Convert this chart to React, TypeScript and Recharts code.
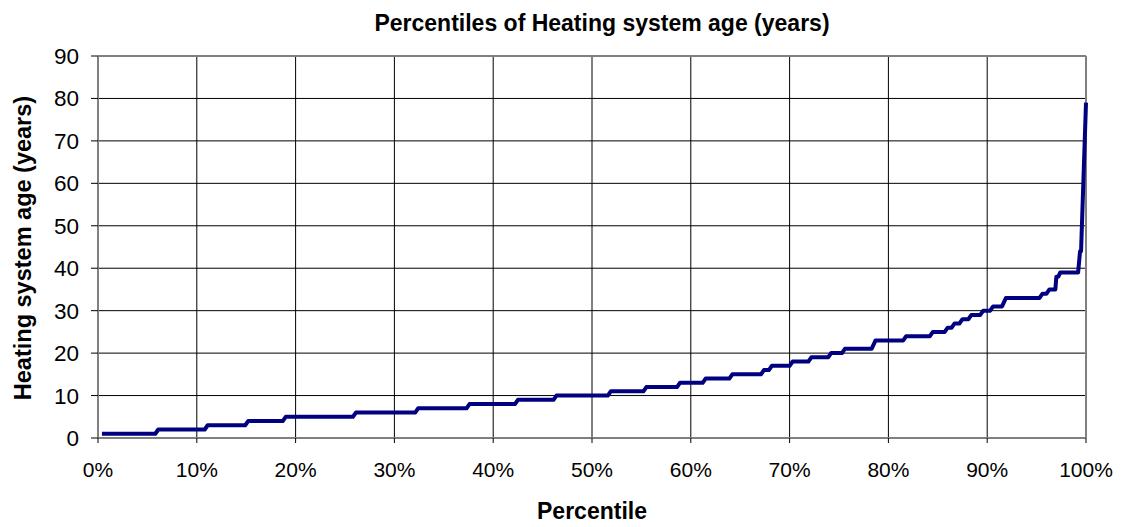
import { CartesianGrid, Line, LineChart, ReferenceLine, XAxis, YAxis } from "recharts";

// Step levels of the percentile curve (years) and where each flat step starts / ends (percent).
const stepLevels = [
  1, 2, 3, 4, 5, 6, 7, 8, 9, 10, 11, 12, 13, 14, 15, 16, 17, 18, 19, 20, 21, 23, 24, 25, 26, 27,
  28, 29, 30, 31, 33, 34, 35, 38, 39, 44, 79,
];
const stepStarts = [
  0.4, 6.1, 11.1, 15.2, 19.0, 26.1, 32.4, 37.6, 42.5, 46.4, 51.9, 55.5, 58.9, 61.5, 64.2, 67.4,
  68.2, 70.3, 72.2, 74.2, 75.6, 78.7, 81.8, 84.5, 86.0, 86.7, 87.5, 88.4, 89.6, 90.6, 91.9, 95.6,
  96.3, 97.0, 97.4, 99.4, 100,
];
const stepEnds = [
  5.8, 10.8, 14.9, 18.7, 25.8, 32.1, 37.3, 42.2, 46.1, 51.6, 55.2, 58.6, 61.2, 63.9, 67.1, 67.9,
  70.0, 71.9, 73.9, 75.3, 78.3, 81.5, 84.2, 85.7, 86.4, 87.2, 88.1, 89.3, 90.3, 91.5, 95.3, 96.0,
  96.9, 97.2, 99.2, 99.5, 100,
];

const xTicks = [0, 10, 20, 30, 40, 50, 60, 70, 80, 90, 100];
const yTicks = [0, 10, 20, 30, 40, 50, 60, 70, 80, 90];

const data: { p: number; v: number }[] = [];
stepLevels.forEach((v, i) => {
  data.push({ p: stepStarts[i], v });
  if (stepEnds[i] !== stepStarts[i]) data.push({ p: stepEnds[i], v });
});

const FONT = "Arial, 'Liberation Sans', sans-serif";

export default function App() {
  return (
    <div style={{ position: "absolute", left: 0, top: 0, width: 1122, height: 527, background: "#fff" }}>
      <LineChart width={1122} height={527} data={data} margin={{ top: 56, right: 36, bottom: 0, left: 0 }}>
        <CartesianGrid stroke="#000" strokeWidth={1} />
        <XAxis
          type="number"
          dataKey="p"
          domain={[0, 100]}
          ticks={xTicks}
          tickFormatter={(v: number) => `${v}%`}
          height={89}
          tickSize={5}
          tickMargin={19}
          axisLine={{ stroke: "#808080", strokeWidth: 2 }}
          tickLine={{ stroke: "#000" }}
          tick={{ fill: "#000", fontSize: 21, fontFamily: FONT }}
          label={{
            content: () => (
              <text x={592} y={519} textAnchor="middle" fontSize={23} fontWeight="bold" fontFamily={FONT} fill="#000">
                Percentile
              </text>
            ),
          }}
        />
        <YAxis
          type="number"
          domain={[0, 90]}
          ticks={yTicks}
          width={98}
          tickSize={7}
          tickMargin={12}
          axisLine={{ stroke: "#808080", strokeWidth: 2 }}
          tickLine={{ stroke: "#000" }}
          tick={{ fill: "#000", fontSize: 22.5, fontFamily: FONT }}
          label={{
            content: () => (
              <text
                x={23}
                y={248}
                transform="rotate(-90 23 248)"
                textAnchor="middle"
                dominantBaseline="central"
                fontSize={23.5}
                fontWeight="bold"
                fontFamily={FONT}
                fill="#000"
              >
                Heating system age (years)
              </text>
            ),
          }}
        />
        <ReferenceLine y={90} stroke="#808080" strokeWidth={2} />
        <ReferenceLine x={100} stroke="#808080" strokeWidth={2} />
        <Line
          type="linear"
          dataKey="v"
          stroke="#000080"
          strokeWidth={4}
          strokeLinejoin="round"
          dot={false}
          activeDot={false}
          isAnimationActive={false}
        />
        <text x={602} y={31} textAnchor="middle" fontSize={23} fontWeight="bold" fontFamily={FONT} fill="#000">
          Percentiles of Heating system age (years)
        </text>
      </LineChart>
    </div>
  );
}
